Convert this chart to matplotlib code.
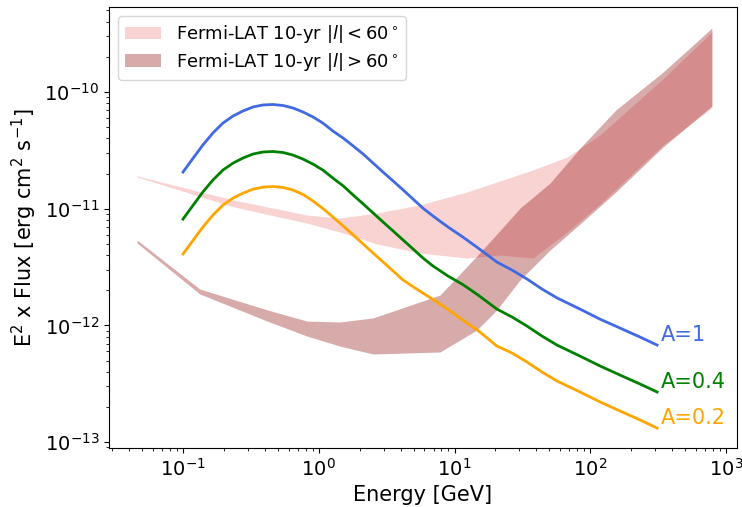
# E^2 x Flux 곡선과 Fermi-LAT 감도 밴드

import numpy as np
import matplotlib
matplotlib.use('Agg')
import matplotlib.pyplot as plt

# 모델 곡선 (GeV, erg cm^-2 s^-1)
energy = [0.1, 0.119, 0.140, 0.166, 0.197, 0.234, 0.277, 0.328, 0.388,
          0.460, 0.545, 0.646, 0.765, 0.906, 1.07, 1.27, 1.51, 1.79, 2.12,
          2.51, 2.97, 3.52, 4.17, 4.94, 5.85, 6.93, 8.94, 11.5, 14.9, 20.5,
          26.5, 34.1, 44.0, 56.8, 83.9, 118, 165, 232, 310]
flux_a1 = [2.06e-11, 2.72e-11, 3.51e-11, 4.45e-11, 5.42e-11, 6.23e-11,
           6.88e-11, 7.44e-11, 7.74e-11, 7.81e-11, 7.66e-11, 7.29e-11,
           6.74e-11, 6.11e-11, 5.42e-11, 4.63e-11, 4.03e-11, 3.45e-11,
           2.94e-11, 2.46e-11, 2.06e-11, 1.73e-11, 1.45e-11, 1.21e-11,
           1.01e-11, 8.66e-12, 6.97e-12, 5.72e-12, 4.60e-12, 3.49e-12,
           2.98e-12, 2.50e-12, 2.05e-12, 1.72e-12, 1.38e-12, 1.13e-12,
           9.50e-13, 7.95e-13, 6.79e-13]
flux_a04 = [8.15e-12, 1.075e-11, 1.39e-11, 1.76e-11, 2.145e-11, 2.46e-11,
            2.72e-11, 2.94e-11, 3.06e-11, 3.09e-11, 3.03e-11, 2.88e-11,
            2.66e-11, 2.41e-11, 2.145e-11, 1.83e-11, 1.57e-11, 1.31e-11,
            1.10e-11, 9.20e-12, 7.70e-12, 6.45e-12, 5.40e-12, 4.52e-12,
            3.78e-12, 3.23e-12, 2.65e-12, 2.24e-12, 1.82e-12, 1.38e-12,
            1.18e-12, 9.88e-13, 8.11e-13, 6.79e-13, 5.46e-13, 4.49e-13,
            3.76e-13, 3.15e-13, 2.69e-13]
flux_a02 = [4.09e-12, 5.39e-12, 6.96e-12, 8.82e-12, 1.075e-11, 1.234e-11,
            1.36e-11, 1.47e-11, 1.53e-11, 1.55e-11, 1.52e-11, 1.445e-11,
            1.324e-11, 1.164e-11, 1.005e-11, 8.49e-12, 7.11e-12, 5.96e-12,
            4.99e-12, 4.17e-12, 3.50e-12, 2.93e-12, 2.45e-12, 2.15e-12,
            1.89e-12, 1.67e-12, 1.37e-12, 1.11e-12, 9.04e-13, 6.65e-13,
            5.80e-13, 4.86e-13, 3.99e-13, 3.34e-13, 2.69e-13, 2.21e-13,
            1.85e-13, 1.55e-13, 1.32e-13]
labels = ['A=1', 'A=0.4', 'A=0.2']

# Fermi-LAT 10-yr |l| < 60 밴드
low_e = [0.0459, 0.233, 0.819, 1.43, 2.68, 5.56, 12.3, 21.6, 37.8, 67.3,
         118, 343, 785]
low_hi = [1.91e-11, 1.19e-11, 8.83e-12, 8.32e-12, 9.18e-12, 1.08e-11,
          1.39e-11, 1.73e-11, 2.15e-11, 2.77e-11, 4.30e-11, 1.30e-10,
          3.27e-10]
low_lo = [1.87e-11, 1.04e-11, 7.53e-12, 6.31e-12, 4.99e-12, 4.17e-12,
          3.78e-12, 4.01e-12, 3.78e-12, 6.31e-12, 1.10e-11, 3.52e-11,
          7.30e-11]

# Fermi-LAT 10-yr |l| > 60 밴드
high_e = [0.0459, 0.133, 0.416, 0.819, 1.43, 2.51, 7.81, 14.6, 20.5, 30.3,
          50.5, 85.4, 154, 343, 785]
high_hi = [5.39e-12, 2.05e-12, 1.36e-12, 1.09e-12, 1.07e-12, 1.16e-12,
           1.82e-12, 3.94e-12, 6.07e-12, 1.01e-11, 1.66e-11, 3.38e-11,
           7.01e-11, 1.48e-10, 3.53e-10]
high_lo = [5.08e-12, 1.86e-12, 1.09e-12, 8.11e-13, 6.65e-13, 5.69e-13,
           5.92e-13, 9.14e-13, 1.36e-12, 2.45e-12, 4.43e-12, 7.53e-12,
           1.39e-11, 3.38e-11, 7.59e-11]

fig = plt.figure(figsize=(7.42, 5.07), dpi=100)
ax = fig.add_axes([0.1469, 0.1164, 0.8464, 0.8698])

ax.fill_between(low_e, low_lo, low_hi, color='lightcoral', alpha=0.35,
                lw=0, label=r'Fermi-LAT 10-yr $|l| < 60^\circ$')
ax.fill_between(high_e, high_lo, high_hi, color='darkred', alpha=0.33,
                lw=0, label=r'Fermi-LAT 10-yr $|l| > 60^\circ$')

colors = ['royalblue', 'green', 'orange']
for flux, lab, c in zip([flux_a1, flux_a04, flux_a02], labels, colors):
    ax.plot(energy, flux, color=c, lw=2)
    ax.text(energy[-1] * 1.07, flux[-1], lab, color=c, fontsize=15,
            ha='left', va='bottom')

ax.set_xscale('log')
ax.set_yscale('log')
ax.set_xlim(10 ** -1.545, 10 ** 3.08)
ax.set_ylim(10 ** -13.05, 10 ** -9.272)

ax.set_xlabel('Energy [GeV]', fontsize=15)
ax.set_ylabel(r'E$^2$ x Flux [erg cm$^2$ s$^{-1}$]', fontsize=15)
ax.tick_params(labelsize=14)
ax.legend(loc='upper left', fontsize=13, labelspacing=0.3)

fig.savefig('out.png', dpi=100)
